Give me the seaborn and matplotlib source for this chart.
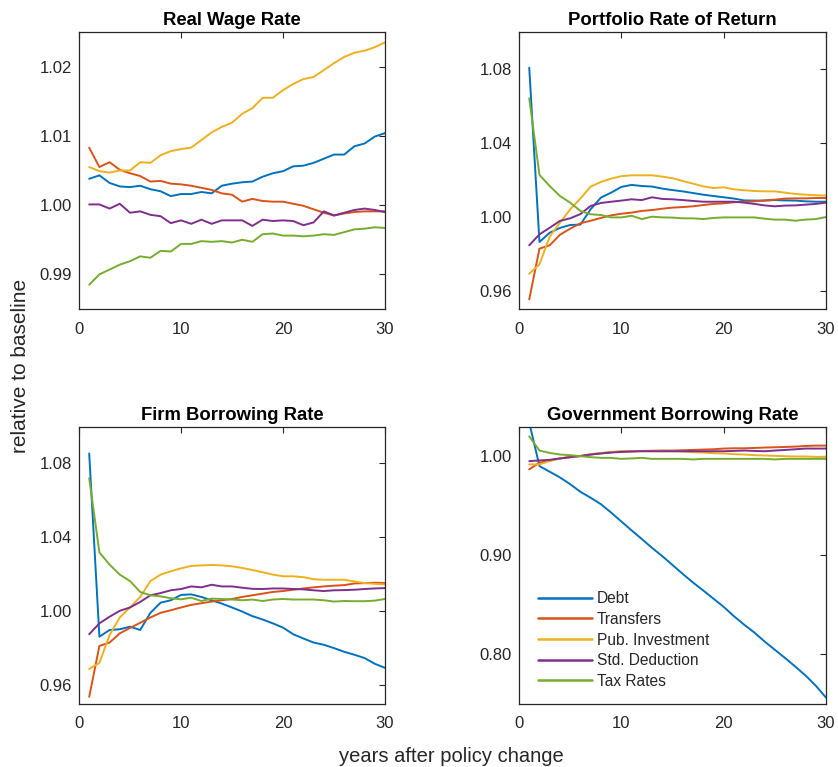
import numpy as np
import pandas as pd
import matplotlib
matplotlib.use("Agg")
import matplotlib.pyplot as plt
import seaborn as sns

years = list(range(1, 31))
policies = ["Debt", "Transfers", "Pub. Investment", "Std. Deduction", "Tax Rates"]
colors = ["#0072BD", "#D95319", "#EDB120", "#7E2F8E", "#77AC30"]

# Real Wage Rate
wage_debt = [1.0038, 1.0043, 1.0032, 1.0027, 1.0026, 1.0028, 1.0023, 1.0020, 1.0013, 1.0016,
             1.0016, 1.0019, 1.0017, 1.0028, 1.0031, 1.0033, 1.0034, 1.0041, 1.0046, 1.0049,
             1.0056, 1.0057, 1.0061, 1.0067, 1.0073, 1.0073, 1.0085, 1.0089, 1.0099, 1.0104]
wage_transfers = [1.0083, 1.0055, 1.0062, 1.0051, 1.0046, 1.0042, 1.0034, 1.0035, 1.0031, 1.0030,
                  1.0028, 1.0025, 1.0022, 1.0017, 1.0015, 1.0005, 1.0009, 1.0006, 1.0005, 1.0005,
                  1.0002, 0.9999, 0.9994, 0.9989, 0.9985, 0.9988, 0.9990, 0.9991, 0.9991, 0.9991]
wage_pubinv = [1.0055, 1.0049, 1.0047, 1.0050, 1.0050, 1.0062, 1.0061, 1.0072, 1.0078, 1.0081,
               1.0083, 1.0094, 1.0105, 1.0113, 1.0119, 1.0132, 1.0140, 1.0155, 1.0155, 1.0166,
               1.0175, 1.0182, 1.0185, 1.0195, 1.0205, 1.0214, 1.0220, 1.0223, 1.0228, 1.0235]
wage_stddev = [1.0001, 1.0001, 0.9995, 1.0002, 0.9989, 0.9991, 0.9986, 0.9984, 0.9974, 0.9978,
               0.9973, 0.9979, 0.9973, 0.9978, 0.9978, 0.9978, 0.9970, 0.9979, 0.9977, 0.9978,
               0.9977, 0.9971, 0.9975, 0.9991, 0.9985, 0.9989, 0.9993, 0.9995, 0.9993, 0.9990]
wage_tax = [0.9885, 0.9900, 0.9907, 0.9914, 0.9919, 0.9926, 0.9924, 0.9934, 0.9933, 0.9944,
            0.9944, 0.9948, 0.9947, 0.9948, 0.9946, 0.9950, 0.9947, 0.9958, 0.9959, 0.9956,
            0.9956, 0.9955, 0.9956, 0.9958, 0.9957, 0.9961, 0.9965, 0.9966, 0.9968, 0.9967]

# Portfolio Rate of Return
port_debt = [1.0807, 0.9863, 0.9913, 0.9939, 0.9955, 0.9957, 1.0040, 1.0103, 1.0130, 1.0161,
             1.0172, 1.0166, 1.0163, 1.0152, 1.0144, 1.0137, 1.0128, 1.0119, 1.0112, 1.0105,
             1.0098, 1.0088, 1.0087, 1.0087, 1.0090, 1.0088, 1.0087, 1.0083, 1.0081, 1.0081]
port_transfers = [0.9552, 0.9827, 0.9845, 0.9902, 0.9935, 0.9964, 0.9978, 0.9993, 1.0007, 1.0016,
                  1.0022, 1.0031, 1.0036, 1.0043, 1.0049, 1.0052, 1.0056, 1.0063, 1.0069, 1.0072,
                  1.0078, 1.0081, 1.0083, 1.0088, 1.0092, 1.0098, 1.0099, 1.0099, 1.0101, 1.0101]
port_pubinv = [0.9691, 0.9742, 0.9892, 0.9967, 1.0040, 1.0098, 1.0163, 1.0188, 1.0206, 1.0219,
               1.0224, 1.0224, 1.0224, 1.0217, 1.0208, 1.0193, 1.0179, 1.0164, 1.0155, 1.0159,
               1.0148, 1.0143, 1.0139, 1.0137, 1.0137, 1.0130, 1.0123, 1.0119, 1.0116, 1.0114]
port_stddev = [0.9845, 0.9904, 0.9940, 0.9977, 0.9991, 1.0014, 1.0058, 1.0074, 1.0081, 1.0087,
               1.0094, 1.0090, 1.0105, 1.0096, 1.0094, 1.0090, 1.0085, 1.0081, 1.0081, 1.0081,
               1.0081, 1.0076, 1.0069, 1.0061, 1.0056, 1.0060, 1.0061, 1.0065, 1.0069, 1.0076]
port_tax = [1.0641, 1.0226, 1.0166, 1.0112, 1.0076, 1.0031, 1.0013, 1.0009, 0.9996, 0.9996,
            1.0005, 0.9987, 1.0000, 0.9996, 0.9995, 0.9991, 0.9991, 0.9987, 0.9993, 0.9996,
            0.9996, 0.9996, 0.9996, 0.9989, 0.9984, 0.9984, 0.9978, 0.9984, 0.9987, 0.9998]

# Firm Borrowing Rate
firm_debt = [1.0854, 0.9862, 0.9898, 0.9902, 0.9916, 0.9898, 0.9991, 1.0046, 1.0059, 1.0088,
             1.0091, 1.0077, 1.0059, 1.0041, 1.0020, 0.9998, 0.9973, 0.9955, 0.9934, 0.9911,
             0.9875, 0.9852, 0.9830, 0.9818, 0.9800, 0.9780, 0.9764, 0.9746, 0.9715, 0.9693]
firm_transfers = [0.9536, 0.9812, 0.9830, 0.9880, 0.9909, 0.9937, 0.9966, 0.9991, 1.0005, 1.0020,
                  1.0034, 1.0043, 1.0052, 1.0059, 1.0066, 1.0077, 1.0086, 1.0095, 1.0104, 1.0109,
                  1.0116, 1.0123, 1.0129, 1.0134, 1.0138, 1.0141, 1.0150, 1.0152, 1.0154, 1.0152]
firm_pubinv = [0.9687, 0.9720, 0.9871, 0.9966, 1.0020, 1.0077, 1.0163, 1.0198, 1.0216, 1.0232,
               1.0245, 1.0248, 1.0250, 1.0248, 1.0243, 1.0234, 1.0223, 1.0211, 1.0198, 1.0189,
               1.0189, 1.0184, 1.0173, 1.0170, 1.0170, 1.0170, 1.0161, 1.0152, 1.0148, 1.0145]
firm_stddev = [0.9875, 0.9934, 0.9970, 1.0002, 1.0020, 1.0050, 1.0086, 1.0098, 1.0113, 1.0120,
               1.0134, 1.0129, 1.0143, 1.0134, 1.0134, 1.0127, 1.0121, 1.0120, 1.0123, 1.0123,
               1.0120, 1.0118, 1.0113, 1.0109, 1.0113, 1.0114, 1.0116, 1.0120, 1.0123, 1.0125]
firm_tax = [1.0720, 1.0318, 1.0252, 1.0198, 1.0163, 1.0104, 1.0086, 1.0080, 1.0070, 1.0064,
            1.0073, 1.0055, 1.0068, 1.0066, 1.0063, 1.0059, 1.0063, 1.0055, 1.0063, 1.0066,
            1.0063, 1.0063, 1.0063, 1.0059, 1.0052, 1.0055, 1.0054, 1.0054, 1.0057, 1.0066]

# Government Borrowing Rate
gov_debt = [1.0340, 0.9900, 0.9843, 0.9785, 0.9717, 0.9640, 0.9580, 0.9515, 0.9430, 0.9340,
            0.9250, 0.9163, 0.9073, 0.8990, 0.8900, 0.8810, 0.8723, 0.8643, 0.8560, 0.8477,
            0.8383, 0.8297, 0.8217, 0.8127, 0.8043, 0.7960, 0.7873, 0.7783, 0.7680, 0.7560]
gov_transfers = [0.9867, 0.9933, 0.9957, 0.9977, 0.9990, 1.0000, 1.0017, 1.0030, 1.0040, 1.0047,
                 1.0050, 1.0053, 1.0055, 1.0057, 1.0057, 1.0060, 1.0063, 1.0067, 1.0070, 1.0077,
                 1.0080, 1.0080, 1.0083, 1.0087, 1.0090, 1.0093, 1.0097, 1.0103, 1.0107, 1.0107]
gov_pubinv = [0.9917, 0.9917, 0.9950, 0.9977, 0.9993, 1.0000, 1.0020, 1.0033, 1.0043, 1.0050,
              1.0050, 1.0050, 1.0050, 1.0050, 1.0050, 1.0047, 1.0040, 1.0037, 1.0030, 1.0027,
              1.0020, 1.0017, 1.0010, 1.0007, 1.0003, 1.0000, 0.9997, 0.9997, 0.9993, 0.9993]
gov_stddev = [0.9950, 0.9957, 0.9963, 0.9977, 0.9990, 1.0003, 1.0017, 1.0027, 1.0037, 1.0043,
              1.0047, 1.0050, 1.0050, 1.0050, 1.0050, 1.0050, 1.0050, 1.0050, 1.0050, 1.0050,
              1.0053, 1.0057, 1.0053, 1.0050, 1.0057, 1.0063, 1.0070, 1.0077, 1.0077, 1.0077]
gov_tax = [1.0200, 1.0057, 1.0033, 1.0017, 1.0010, 1.0000, 0.9990, 0.9983, 0.9983, 0.9973,
           0.9977, 0.9983, 0.9973, 0.9973, 0.9973, 0.9973, 0.9967, 0.9973, 0.9973, 0.9973,
           0.9973, 0.9973, 0.9973, 0.9973, 0.9967, 0.9973, 0.9973, 0.9973, 0.9973, 0.9973]

titles = ["Real Wage Rate", "Portfolio Rate of Return", "Firm Borrowing Rate", "Government Borrowing Rate"]
panel_series = [
    [wage_debt, wage_transfers, wage_pubinv, wage_stddev, wage_tax],
    [port_debt, port_transfers, port_pubinv, port_stddev, port_tax],
    [firm_debt, firm_transfers, firm_pubinv, firm_stddev, firm_tax],
    [gov_debt, gov_transfers, gov_pubinv, gov_stddev, gov_tax],
]
ylims = [(0.985, 1.025), (0.95, 1.10), (0.95, 1.10), (0.75, 1.03)]
yticks = [[0.99, 1.00, 1.01, 1.02], [0.96, 1.00, 1.04, 1.08], [0.96, 1.00, 1.04, 1.08], [0.80, 0.90, 1.00]]
xticks = [0, 10, 20, 30]

sns.set_theme(style="white")
plt.rcParams["font.family"] = ["Liberation Sans", "DejaVu Sans"]
plt.rcParams["axes.edgecolor"] = "#262626"
plt.rcParams["xtick.color"] = "#262626"
plt.rcParams["ytick.color"] = "#262626"

fig = plt.figure(figsize=(8.38, 7.67), dpi=100)
W, H = 838.0, 767.0
boxes = [(79, 32, 385, 309), (519, 32, 826, 309), (79, 426.5, 385, 703.5), (519, 426.5, 826, 703.5)]
palette = dict(zip(policies, colors))

for i, (x0, y0, x1, y1) in enumerate(boxes):
    ax = fig.add_axes([x0 / W, 1 - y1 / H, (x1 - x0) / W, (y1 - y0) / H])
    rows = []
    for p, vals in zip(policies, panel_series[i]):
        for yr, v in zip(years, vals):
            rows.append({"year": yr, "value": v, "policy": p})
    df = pd.DataFrame(rows)
    sns.lineplot(data=df, x="year", y="value", hue="policy", hue_order=policies,
                 palette=palette, linewidth=1.4, ax=ax, legend=(i == 3))
    ax.set_xlim(0, 30)
    ax.set_ylim(*ylims[i])
    ax.set_xticks(xticks)
    ax.set_yticks(yticks[i])
    ax.set_yticklabels([f"{t:.2f}" for t in yticks[i]])
    ax.set_xlabel("")
    ax.set_ylabel("")
    ax.set_title(titles[i], fontsize=13.3, fontweight="bold", pad=5, color="black")
    ax.tick_params(direction="in", length=4, width=0.8, top=True, right=True,
                   labelsize=12, labelcolor="#262626")
    ax.tick_params(axis="x", pad=9)
    ax.tick_params(axis="y", pad=5)
    for s in ax.spines.values():
        s.set_linewidth(0.9)
        s.set_color("#262626")
    if i == 3:
        leg = ax.legend(loc="upper left", bbox_to_anchor=(0.062, 0.405), frameon=False,
                        fontsize=11.2, handlelength=3.5, handletextpad=0.28,
                        labelspacing=0.36, borderpad=0, borderaxespad=0)
        for line in leg.get_lines():
            line.set_linewidth(1.8)

fig.text(451 / W, 1 - 756 / H, "years after policy change", ha="center", va="center",
         fontsize=14.5, color="#262626")
fig.text(21 / W, 1 - 366 / H, "relative to baseline", ha="center", va="center",
         rotation=90, fontsize=15, color="#262626")

fig.savefig("out.png", dpi=100)
